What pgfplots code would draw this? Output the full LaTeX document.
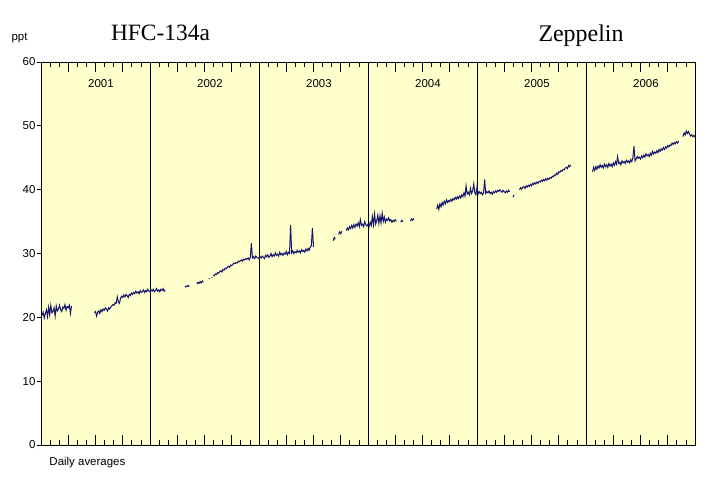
\documentclass[border=0pt]{standalone}
\usepackage{fontspec}
\setmainfont{Liberation Sans}
\newfontfamily\tnr{Liberation Serif}
\usepackage{pgfplots}
\pgfplotsset{compat=1.18}
\definecolor{bgyellow}{RGB}{255,255,204}
\definecolor{navyline}{RGB}{20,20,110}
\begin{document}
\begin{tikzpicture}
\useasboundingbox (-41bp,-43bp) rectangle (672bp,445bp);
\begin{axis}[
  scale only axis, width=654bp, height=383bp,
  at={(0,0)}, anchor=south west,
  xmin=2001, xmax=2007, ymin=0, ymax=60,
  axis background/.style={fill=bgyellow},
  axis line style={black, line width=0.8pt},
  xtick={2001,2001.25,2001.5,2001.75,2002,2002.25,2002.5,2002.75,2003,2003.25,2003.5,2003.75,2004,2004.25,2004.5,2004.75,2005,2005.25,2005.5,2005.75,2006,2006.25,2006.5,2006.75,2007},
  minor x tick num=2,
  xticklabels={},
  tick align=inside,
  major tick length=10bp, minor tick length=5bp,
  xtick style={black, line width=0.7pt},
  extra x ticks={2002,2003,2004,2005,2006},
  extra x tick labels={},
  extra x tick style={grid=major, major grid style={black, line width=0.8pt}},
  ytick={0,10,20,30,40,50,60},
  ytick pos=left,
  ytick style={black, line width=0.7pt, /pgfplots/major tick length=4bp, xshift=-4bp},
  yticklabel style={font=\fontsize{11.5}{13}\selectfont, xshift=-2bp},
  /pgf/number format/assume math mode=true,
  unbounded coords=jump,
  clip=false,
]
\addplot[navyline, line width=1pt] coordinates {
(2001.01,20.3)(2001.02,20.8)(2001.03,19.9)(2001.04,20.6)(2001.05,21.2)(2001.06,20.1)(2001.07,21.6)(2001.08,20.4)(2001.09,21.9)(2001.10,20.7)
(2001.11,20.9)(2001.12,21.5)(2001.13,20.2)(2001.14,21.8)(2001.15,21.0)(2001.16,21.3)(2001.17,21.9)(2001.18,21.2)(2001.19,20.9)(2001.20,21.6)
(2001.21,21.4)(2001.22,22.0)(2001.23,21.1)(2001.24,21.7)(2001.25,21.5)(2001.26,21.9)(2001.27,20.6)(2001.28,21.8)
(2001.29,nan)
(2001.49,20.7)(2001.50,20.9)(2001.51,20.2)(2001.52,20.8)(2001.53,21.0)(2001.54,20.6)(2001.55,21.2)(2001.56,20.9)(2001.57,21.3)(2001.58,21.1)
(2001.59,21.5)(2001.60,21.3)(2001.61,21.0)(2001.62,21.5)(2001.63,21.3)(2001.64,21.6)(2001.65,21.8)(2001.66,22.0)(2001.67,21.9)(2001.68,22.3)
(2001.69,22.2)(2001.70,23.2)(2001.71,22.4)(2001.72,22.2)(2001.73,23.0)(2001.74,23.3)(2001.75,23.1)(2001.76,23.5)(2001.77,23.2)(2001.78,23.6)
(2001.79,23.4)(2001.80,23.1)(2001.81,23.6)(2001.82,23.4)(2001.83,23.8)(2001.84,23.6)(2001.85,23.9)(2001.86,23.7)(2001.87,24.1)(2001.88,23.8)
(2001.89,24.0)(2001.90,23.7)(2001.91,24.2)(2001.92,23.9)(2001.93,24.0)(2001.94,24.3)(2001.95,23.9)(2001.96,24.2)(2001.97,24.0)(2001.98,24.4)
(2001.99,24.1)(2002.00,24.0)(2002.01,24.3)(2002.02,24.1)(2002.03,24.4)(2002.04,24.0)(2002.05,24.2)(2002.06,24.5)(2002.07,24.1)(2002.08,24.3)
(2002.09,24.0)(2002.10,24.4)(2002.11,24.2)(2002.12,24.5)(2002.13,24.1)(2002.14,24.3)
(2002.15,nan)
(2002.32,24.7)(2002.33,24.9)(2002.34,24.8)(2002.35,25.0)(2002.36,24.8)
(2002.37,nan)
(2002.43,25.2)(2002.44,25.5)(2002.45,25.3)(2002.46,25.6)(2002.47,25.4)(2002.48,25.7)(2002.49,25.5)
(2002.50,nan)
(2002.54,26.0)(2002.545,26.1)
(2002.55,nan)
(2002.565,26.2)(2002.57,26.3)
(2002.575,nan)
(2002.58,26.6)(2002.59,26.5)(2002.60,26.8)(2002.61,26.7)(2002.62,27.0)(2002.63,26.9)(2002.64,27.2)(2002.65,27.3)(2002.66,27.1)(2002.67,27.5)
(2002.68,27.4)(2002.69,27.7)(2002.70,27.6)(2002.71,27.9)(2002.72,28.0)(2002.73,27.8)(2002.74,28.2)(2002.75,28.1)(2002.76,28.3)(2002.77,28.5)
(2002.78,28.4)(2002.79,28.6)(2002.80,28.5)(2002.81,28.8)(2002.82,28.7)(2002.83,28.9)(2002.84,29.0)(2002.85,28.8)(2002.86,29.1)(2002.87,29.0)
(2002.88,29.2)(2002.89,29.1)(2002.90,29.3)(2002.91,29.0)(2002.92,29.4)(2002.93,31.6)(2002.94,29.3)(2002.95,29.5)(2002.96,29.2)(2002.97,29.6)
(2002.98,29.4)(2002.99,29.3)
(2003.00,29.2)(2003.01,29.5)(2003.02,29.3)(2003.03,29.6)(2003.04,29.4)(2003.05,29.2)(2003.06,29.7)(2003.07,29.5)(2003.08,29.8)(2003.09,29.4)
(2003.10,29.6)(2003.11,30.0)(2003.12,29.5)(2003.13,29.8)(2003.14,29.6)(2003.15,30.1)(2003.16,29.7)(2003.17,29.9)(2003.18,29.6)(2003.19,30.2)
(2003.20,29.8)(2003.21,30.0)(2003.22,29.7)(2003.23,30.1)(2003.24,29.9)(2003.25,30.3)(2003.26,29.8)(2003.27,30.2)(2003.28,30.0)(2003.29,34.5)
(2003.30,30.1)(2003.31,30.4)(2003.32,30.0)(2003.33,30.3)(2003.34,30.1)(2003.35,30.5)(2003.36,30.2)(2003.37,30.4)(2003.38,30.1)(2003.39,30.6)
(2003.40,30.3)(2003.41,30.5)(2003.42,30.2)(2003.43,30.7)(2003.44,30.4)(2003.45,30.8)(2003.46,30.5)(2003.47,31.0)(2003.48,31.2)(2003.49,34.0)
(2003.50,31.0)
(2003.51,nan)
(2003.68,32.0)(2003.69,32.5)(2003.70,32.2)
(2003.71,nan)
(2003.73,33.0)(2003.74,33.4)(2003.75,33.1)(2003.76,33.5)
(2003.77,nan)
(2003.80,33.6)(2003.81,34.0)(2003.82,33.7)(2003.83,34.2)(2003.84,33.9)(2003.85,34.4)(2003.86,34.0)(2003.87,34.5)(2003.88,34.1)(2003.89,34.6)
(2003.90,34.3)(2003.91,34.8)(2003.92,34.2)(2003.93,35.3)(2003.94,34.4)(2003.95,34.6)(2003.96,34.2)(2003.97,35.0)(2003.98,34.5)(2003.99,34.3)
(2004.00,34.6)(2004.01,34.2)(2004.02,34.9)(2004.03,34.4)(2004.04,35.8)(2004.05,34.5)(2004.06,36.2)(2004.07,34.6)(2004.08,35.1)(2004.09,36.0)
(2004.10,34.7)(2004.11,35.9)(2004.12,34.8)(2004.13,36.3)(2004.14,35.0)(2004.15,35.7)(2004.16,34.9)(2004.17,35.4)(2004.18,35.2)(2004.19,35.6)
(2004.20,35.1)(2004.21,35.3)(2004.22,34.9)(2004.23,35.2)(2004.24,35.0)(2004.25,35.3)(2004.26,35.1)
(2004.27,nan)
(2004.30,34.9)(2004.31,35.2)(2004.32,35.0)
(2004.33,nan)
(2004.39,35.1)(2004.40,35.4)(2004.41,35.2)(2004.42,35.5)
(2004.43,nan)
(2004.63,37.0)(2004.64,37.6)(2004.65,36.9)(2004.66,37.8)(2004.67,37.3)(2004.68,38.0)(2004.69,37.6)(2004.70,38.2)(2004.71,37.8)(2004.72,38.4)
(2004.73,38.0)(2004.74,38.3)(2004.75,38.1)(2004.76,38.5)(2004.77,38.2)(2004.78,38.6)(2004.79,38.4)(2004.80,38.8)(2004.81,38.5)(2004.82,38.9)
(2004.83,38.6)(2004.84,39.0)(2004.85,38.7)(2004.86,39.2)(2004.87,38.9)(2004.88,39.5)(2004.89,39.0)(2004.90,40.6)(2004.91,39.3)(2004.92,39.6)
(2004.93,39.2)(2004.94,40.2)(2004.95,39.4)(2004.96,39.8)(2004.97,40.9)(2004.98,39.5)(2004.99,39.2)
(2005.00,40.4)(2005.01,39.3)(2005.02,39.7)(2005.03,39.4)(2005.04,39.6)(2005.05,39.2)(2005.06,39.5)(2005.07,41.6)(2005.08,39.4)(2005.09,39.7)
(2005.10,39.5)(2005.11,39.8)(2005.12,39.4)(2005.13,39.6)(2005.14,39.3)(2005.15,39.7)(2005.16,39.5)(2005.17,39.8)(2005.18,39.6)(2005.19,39.9)
(2005.20,39.7)(2005.21,40.0)(2005.22,39.8)(2005.23,39.6)(2005.24,39.9)(2005.25,39.7)(2005.26,39.5)(2005.27,39.8)(2005.28,39.6)(2005.29,39.9)
(2005.30,39.7)
(2005.31,nan)
(2005.33,38.8)(2005.34,39.2)
(2005.35,nan)
(2005.39,40.0)(2005.40,40.3)(2005.41,40.1)(2005.42,40.4)(2005.43,40.5)(2005.44,40.2)(2005.45,40.6)(2005.46,40.4)(2005.47,40.7)(2005.48,40.5)
(2005.49,40.8)(2005.50,40.6)(2005.51,41.0)(2005.52,40.8)(2005.53,41.1)(2005.54,40.9)(2005.55,41.2)(2005.56,41.0)(2005.57,41.3)(2005.58,41.2)
(2005.59,41.5)(2005.60,41.3)(2005.61,41.6)(2005.62,41.4)(2005.63,41.7)(2005.64,41.5)(2005.65,41.8)(2005.66,41.6)(2005.67,41.9)(2005.68,41.8)
(2005.69,42.1)(2005.70,42.0)(2005.71,42.3)(2005.72,42.2)(2005.73,42.6)(2005.74,42.4)(2005.75,42.8)(2005.76,42.7)(2005.77,43.0)(2005.78,42.9)
(2005.79,43.2)(2005.80,43.1)(2005.81,43.4)(2005.82,43.5)(2005.83,43.3)(2005.84,43.8)(2005.85,43.6)(2005.86,43.9)
(2005.87,nan)
(2006.06,42.8)(2006.07,43.5)(2006.08,43.0)(2006.09,43.6)(2006.10,43.2)(2006.11,43.7)(2006.12,43.4)(2006.13,43.9)(2006.14,43.5)(2006.15,43.8)
(2006.16,43.4)(2006.17,44.0)(2006.18,43.6)(2006.19,43.9)(2006.20,43.5)(2006.21,44.1)(2006.22,43.7)(2006.23,44.0)(2006.24,43.6)(2006.25,44.2)
(2006.26,43.8)(2006.27,44.4)(2006.28,44.0)(2006.29,45.2)(2006.30,44.1)(2006.31,44.3)(2006.32,43.9)(2006.33,44.5)(2006.34,44.2)(2006.35,44.4)
(2006.36,44.1)(2006.37,44.6)(2006.38,44.3)(2006.39,44.5)(2006.40,44.2)(2006.41,44.7)(2006.42,44.4)(2006.43,45.0)(2006.44,46.8)(2006.45,44.5)
(2006.46,44.8)(2006.47,45.2)(2006.48,44.9)(2006.49,45.1)(2006.50,44.8)(2006.51,45.3)(2006.52,45.0)(2006.53,45.4)(2006.54,45.1)(2006.55,45.6)
(2006.56,45.3)(2006.57,45.5)(2006.58,45.2)(2006.59,45.7)(2006.60,45.4)(2006.61,46.0)(2006.62,45.6)(2006.63,45.9)(2006.64,45.7)(2006.65,46.1)
(2006.66,45.8)(2006.67,46.3)(2006.68,46.0)(2006.69,46.4)(2006.70,46.2)(2006.71,46.6)(2006.72,46.3)(2006.73,46.7)(2006.74,46.5)(2006.75,46.9)
(2006.76,46.7)(2006.77,47.0)(2006.78,46.9)(2006.79,47.3)(2006.80,47.1)(2006.81,47.4)(2006.82,47.2)(2006.83,47.5)(2006.84,47.3)(2006.85,47.6)
(2006.86,nan)
(2006.89,48.3)(2006.90,48.9)(2006.91,48.6)(2006.92,49.2)(2006.93,48.8)(2006.94,49.1)(2006.95,48.7)(2006.96,48.4)(2006.97,48.6)(2006.98,48.3)
(2006.99,48.5)(2007.00,48.2)
};
\node[font=\fontsize{11.5}{13}\selectfont] at (axis cs:2001.55,56.7) {2001};
\node[font=\fontsize{11.5}{13}\selectfont] at (axis cs:2002.55,56.7) {2002};
\node[font=\fontsize{11.5}{13}\selectfont] at (axis cs:2003.55,56.7) {2003};
\node[font=\fontsize{11.5}{13}\selectfont] at (axis cs:2004.55,56.7) {2004};
\node[font=\fontsize{11.5}{13}\selectfont] at (axis cs:2005.55,56.7) {2005};
\node[font=\fontsize{11.5}{13}\selectfont] at (axis cs:2006.55,56.7) {2006};
\end{axis}
\node[anchor=base, font=\tnr\fontsize{23.5}{26}\selectfont, inner sep=0pt] at (119.5bp,404.3bp) {HFC-134a};
\node[anchor=base, font=\tnr\fontsize{24}{27}\selectfont, inner sep=0pt] at (540bp,403.3bp) {Zeppelin};
\node[anchor=base, font=\fontsize{11.5}{13}\selectfont, inner sep=0pt] at (-21.5bp,404.3bp) {ppt};
\node[anchor=base west, font=\fontsize{11.5}{13}\selectfont, inner sep=0pt] at (8.3bp,-20bp) {Daily averages};
\end{tikzpicture}
\end{document}
